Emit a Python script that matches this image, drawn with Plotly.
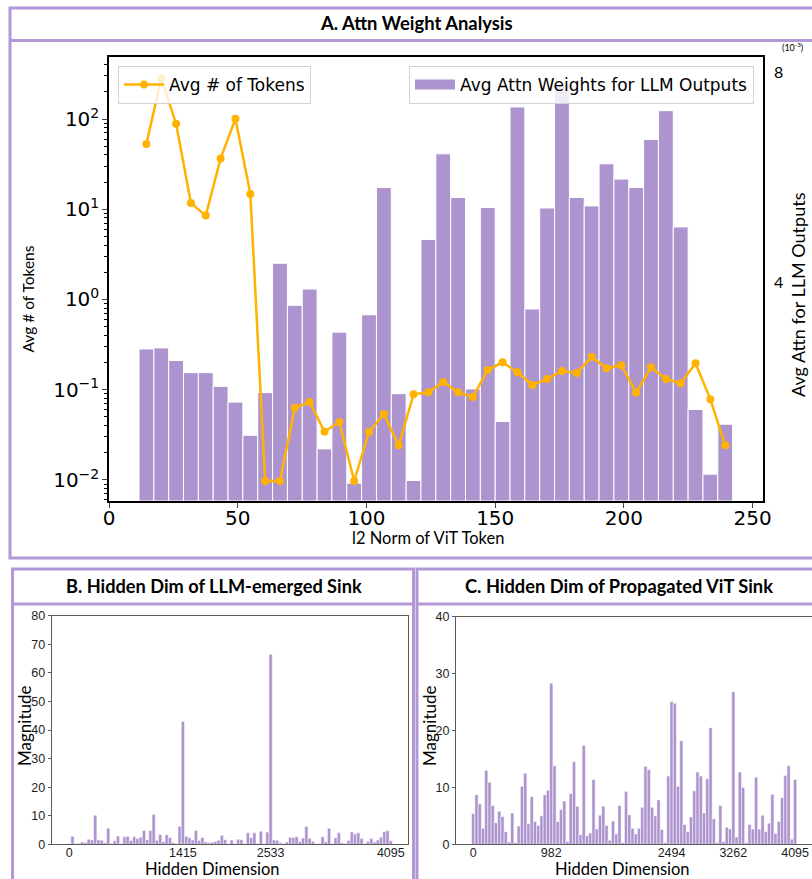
import plotly.graph_objects as go
import numpy as np

W, H = 812, 879


def px(x):
    return x / W


def py(y):
    return 1 - y / H


# ---------------- Panel A data ----------------
bin_left = 11.65
bin_width = 5.764
attn_weights = [2.89, 2.91, 2.67, 2.44, 2.44, 2.18, 1.88, 1.25, 2.06, 4.52,
                3.72, 4.03, 0.99, 3.21, 0.34, 3.54, 5.96, 2.04, 0.39, 4.97,
                6.60, 5.77, 2.13, 5.58, 1.51, 7.49, 3.65, 5.57, 7.92, 5.77,
                5.61, 6.41, 6.12, 5.96, 6.87, 7.42, 5.21, 1.74, 0.51, 1.46]
avg_tokens = [53, 282, 88.7, 11.7, 8.5, 36.6, 100.8, 14.8, 0.00975, 0.00975,
              0.0632, 0.0731, 0.0343, 0.0440, 0.00975, 0.034, 0.0538, 0.0242, 0.0889, 0.0935,
              0.122, 0.0935, 0.0832, 0.1656, 0.2015, 0.156, 0.113, 0.1316, 0.1614, 0.1535,
              0.2307, 0.1726, 0.1866, 0.0927, 0.177, 0.1316, 0.1178, 0.196, 0.0783, 0.0242]
x_ticks_a = [0, 50, 100, 150, 200, 250]
log_tickvals = [0.01, 0.1, 1, 10, 100]
log_ticktext = ["10<sup>\u22122</sup>", "10<sup>\u22121</sup>", "10<sup>0</sup>",
                "10<sup>1</sup>", "10<sup>2</sup>"]
right_tickvals = [4, 8]
right_ticktext = ["4", "8"]

# ---------------- Panel B data ----------------
mag_b = [0.3, 2.8, 0.3, 0.3, 0.8, 0.6, 1.8, 1.5, 10.2, 1.6,
         1.4, 0.5, 5.6, 0.3, 1.2, 2.9, 0.3, 2.6, 2.8, 1.3,
         2.6, 2.0, 2.5, 4.8, 1.6, 4.8, 10.4, 1.4, 3.4, 1.0,
         3.3, 2.4, 0.6, 0.3, 6.3, 43.0, 2.8, 2.3, 1.5, 4.8,
         1.3, 2.4, 0.8, 0.5, 0.7, 1.0, 1.4, 3.2, 1.6, 0.3,
         1.5, 0.3, 1.8, 1.6, 0.3, 4.0, 2.3, 4.0, 0.3, 4.6,
         0.3, 4.3, 66.5, 1.5, 1.4, 0.5, 0.3, 0.8, 2.4, 2.4,
         2.6, 1.0, 2.2, 6.2, 2.1, 1.0, 0.3, 0.3, 2.6, 0.9,
         5.6, 0.3, 2.3, 4.0, 0.5, 0.3, 1.3, 4.3, 3.6, 4.0,
         2.0, 0.3, 1.0, 2.0, 0.8, 1.5, 2.5, 4.4, 4.7, 1.2]
tick_idx_b = [0, 35, 62, 99]
tick_lab_b = ["0", "1415", "2533", "4095"]

# ---------------- Panel C data ----------------
mag_c = [5.4, 8.7, 7.1, 2.8, 13.0, 10.9, 6.8, 3.8, 5.8, 4.9,
         2.2, 0.4, 5.5, 0.3, 3.2, 10.2, 12.5, 3.6, 8.4, 4.0,
         3.3, 5.0, 8.7, 9.5, 28.3, 13.8, 4.0, 6.1, 7.6, 0.5,
         8.9, 14.5, 6.7, 1.7, 17.4, 1.5, 2.0, 11.4, 2.7, 5.1,
         6.7, 3.3, 0.7, 4.1, 1.8, 6.8, 0.3, 9.3, 5.2, 2.8,
         1.8, 2.8, 6.5, 13.7, 13.1, 6.5, 5.0, 7.8, 2.6, 0.3,
         12.0, 25.1, 24.8, 10.2, 18.2, 3.5, 2.2, 4.8, 9.4, 12.7,
         12.0, 5.5, 11.5, 20.5, 4.5, 0.3, 6.8, 0.5, 3.0, 2.7,
         26.8, 1.3, 12.7, 10.0, 0.3, 3.5, 2.7, 11.8, 2.7, 5.1,
         2.2, 3.7, 8.8, 1.9, 4.0, 8.2, 12.1, 13.8, 0.9, 11.4]
tick_idx_c = [0, 24, 61, 80, 99]
tick_lab_c = ["0", "982", "2494", "3262", "4095"]

BAR = "rgb(173,148,206)"
ORANGE = "rgb(255,179,0)"
BORDER = "rgb(178,152,214)"
FRAME2 = "rgb(90,90,90)"
CAL = "Lato"

centers = bin_left + bin_width * (np.arange(len(attn_weights)) + 0.5)

fig = go.Figure()

fig.add_trace(go.Bar(
    x=centers, y=attn_weights, width=bin_width,
    marker=dict(color=BAR, line=dict(color="white", width=1)),
    name="Avg Attn Weights for LLM Outputs",
    xaxis="x", yaxis="y", showlegend=False))

# legend proxy (wide rectangle patch like matplotlib's bar legend)
fig.add_trace(go.Scatter(
    x=[None], y=[None], mode="lines", line=dict(color=BAR, width=16),
    name="Avg Attn Weights for LLM Outputs", xaxis="x", yaxis="y",
    legend="legend2", showlegend=True))

fig.add_trace(go.Scatter(
    x=centers, y=avg_tokens, mode="lines+markers",
    line=dict(color=ORANGE, width=2.5), marker=dict(color=ORANGE, size=8),
    name="Avg # of Tokens", xaxis="x", yaxis="y2", legend="legend"))

fig.add_trace(go.Bar(
    x=list(range(len(mag_b))), y=mag_b, width=1,
    marker=dict(color=BAR, line=dict(color="white", width=0.5)),
    xaxis="x3", yaxis="y3", showlegend=False))

fig.add_trace(go.Bar(
    x=list(range(len(mag_c))), y=mag_c, width=1,
    marker=dict(color=BAR, line=dict(color="white", width=0.5)),
    xaxis="x4", yaxis="y4", showlegend=False))

minor_vals = [m * 10.0 ** e for e in range(-3, 3) for m in range(2, 10)]

small_tick_font = dict(family="Liberation Sans", size=12.5, color="rgb(30,30,30)")
big_tick_font = dict(family="DejaVu Sans", size=20, color="black")

fig.update_layout(
    template="none",
    width=W, height=H,
    autosize=False,
    margin=dict(l=0, r=0, t=0, b=0, pad=0),
    paper_bgcolor="white", plot_bgcolor="white",
    barmode="overlay",
    xaxis=dict(domain=[px(109), px(763)], range=[0, 254], anchor="y", automargin=False,
               tickvals=x_ticks_a, ticks="outside", ticklen=5, tickwidth=1.2,
               ticklabelstandoff=-7, tickfont=big_tick_font,
               showline=True, linecolor="black", linewidth=1.5, mirror=True,
               showgrid=False, zeroline=False),
    yaxis=dict(domain=[py(501), py(57)], range=[0, 8.44], anchor="x", side="right",
               automargin=False,
               tickvals=right_tickvals, ticktext=right_ticktext, ticks="",
               ticklabelstandoff=10, ticklabelshift=-8,
               tickfont=dict(family=CAL, size=16, color="black"),
               showgrid=False, zeroline=False, showline=False),
    yaxis2=dict(overlaying="y", anchor="x", side="left", type="log", automargin=False,
                range=[-2.233, 2.687], tickvals=log_tickvals, ticktext=log_ticktext,
                ticks="outside", ticklen=5, tickwidth=1.2, ticklabelstandoff=-1,
                tickfont=big_tick_font,
                minor=dict(tickmode="array", tickvals=minor_vals, ticks="outside",
                           ticklen=3, tickcolor="black", showgrid=False),
                showline=True, linecolor="black", linewidth=1.5, mirror=True,
                showgrid=False, zeroline=False),
    xaxis3=dict(domain=[px(51.7), px(408)], range=[-5.4, 104.3], anchor="y3", automargin=False,
                tickvals=tick_idx_b, ticktext=tick_lab_b, ticks="", ticklabelstandoff=-3,
                tickfont=small_tick_font,
                showline=True, linecolor=FRAME2, linewidth=1, mirror=True,
                showgrid=False, zeroline=False),
    yaxis3=dict(domain=[py(844.3), py(615.7)], range=[0, 80], anchor="x3", automargin=False,
                dtick=10, ticks="outside", ticklen=3, tickcolor=FRAME2,
                tickfont=small_tick_font,
                showline=True, linecolor=FRAME2, linewidth=1, mirror=True,
                showgrid=False, zeroline=False),
    xaxis4=dict(domain=[px(456), 1.0], range=[-5.3, 104.2], anchor="y4", automargin=False,
                tickvals=tick_idx_c, ticktext=tick_lab_c, ticks="", ticklabelstandoff=-3,
                tickfont=small_tick_font,
                showline=True, linecolor=FRAME2, linewidth=1, mirror=True,
                showgrid=False, zeroline=False),
    yaxis4=dict(domain=[py(844.3), py(616.7)], range=[0, 40], anchor="x4", automargin=False,
                dtick=10, ticks="outside", ticklen=3, tickcolor=FRAME2,
                tickfont=small_tick_font,
                showline=True, linecolor=FRAME2, linewidth=1, mirror=False,
                showgrid=False, zeroline=False),
    legend=dict(x=px(118), y=py(66), xanchor="left", yanchor="top",
                bgcolor="rgba(255,255,255,0.8)", bordercolor="rgb(210,210,210)",
                borderwidth=1, font=dict(family="DejaVu Sans", size=17, color="black"),
                itemwidth=40),
    legend2=dict(x=px(754), y=py(66), xanchor="right", yanchor="top",
                 bgcolor="rgba(255,255,255,0.8)", bordercolor="rgb(210,210,210)",
                 borderwidth=1, font=dict(family="DejaVu Sans", size=17, color="black"),
                 itemwidth=40),
)

shapes = [
    # panel A
    dict(type="rect", xref="paper", yref="paper", x0=px(10), x1=px(830), y0=py(558), y1=py(8),
         line=dict(color=BORDER, width=3)),
    dict(type="line", xref="paper", yref="paper", x0=px(10), x1=px(830), y0=py(40.5), y1=py(40.5),
         line=dict(color=BORDER, width=3)),
    # panel B
    dict(type="rect", xref="paper", yref="paper", x0=px(12.5), x1=px(413.5), y0=py(900), y1=py(569),
         line=dict(color=BORDER, width=3)),
    dict(type="line", xref="paper", yref="paper", x0=px(12.5), x1=px(413.5), y0=py(604), y1=py(604),
         line=dict(color=BORDER, width=3)),
    # panel C
    dict(type="rect", xref="paper", yref="paper", x0=px(417), x1=px(830), y0=py(900), y1=py(569),
         line=dict(color=BORDER, width=3)),
    dict(type="line", xref="paper", yref="paper", x0=px(417), x1=px(830), y0=py(604), y1=py(604),
         line=dict(color=BORDER, width=3)),
]
fig.update_layout(shapes=shapes)


def ann(text, x, y, size, bold=False, angle=0, family=CAL, color="black"):
    t = f"<b>{text}</b>" if bold else text
    return dict(text=t, x=px(x), y=py(y), xref="paper", yref="paper",
                showarrow=False, xanchor="center", yanchor="middle",
                textangle=angle, font=dict(family=family, size=size, color=color))


annotations = [
    ann("A. Attn Weight Analysis", 416.5, 23.5, 18.4, bold=True),
    ann("B. Hidden Dim of LLM-emerged Sink", 213.5, 586, 18.2, bold=True),
    ann("C. Hidden Dim of Propagated ViT Sink", 618.5, 586, 18.3, bold=True),
    ann("Avg # of Tokens", 27.5, 299, 15.5, angle=-90),
    ann("Avg Attn for LLM Outputs", 798, 295, 18, angle=-90),
    ann("l2 Norm of ViT Token", 428, 538, 16.5),
    ann("(10<sup>-3</sup>)", 792, 47, 9),
    ann("Magnitude", 24, 726, 17, angle=-90),
    ann("Hidden Dimension", 212, 869, 16.5),
    ann("Magnitude", 429, 726, 17, angle=-90),
    ann("Hidden Dimension", 622.5, 869, 16.5),
]
fig.update_layout(annotations=annotations)

fig.write_html(
    "out.html",
    config={"responsive": False, "displayModeBar": False},
    post_script="document.body.style.margin='0px';document.body.style.overflow='hidden';",
)
